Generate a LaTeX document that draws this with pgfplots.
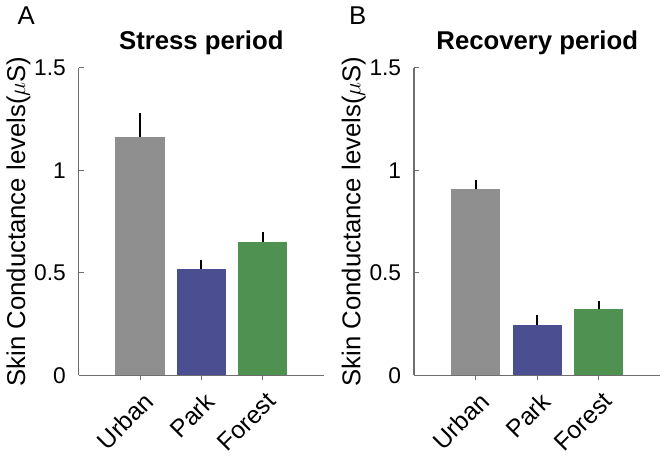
\documentclass[border=0pt]{standalone}
\usepackage{pgfplots}
\pgfplotsset{compat=1.18}
\usepackage{fontspec}
\setmainfont{Liberation Sans}

\definecolor{urban}{RGB}{143,143,143}
\definecolor{park}{RGB}{75,78,145}
\definecolor{forest}{RGB}{78,145,80}
\definecolor{axgray}{RGB}{110,110,110}

\pgfplotsset{
  panel/.style={
    scale only axis,
    height=155.5pt,
    ymin=0, ymax=1.5,
    xmin=0, xmax=4,
    ytick={0,0.5,1,1.5},
    yticklabels={0,0.5,1,1.5},
    xtick={1,2,3},
    xticklabels={Urban,Park,Forest},
    axis x line*=bottom,
    axis y line*=left,
    axis line style={axgray, line width=0.6pt, -},
    tick style={axgray, line width=0.5pt},
    tick align=inside,
    major tick length=2.5pt,
    ybar, bar width=0.8, bar shift=0pt,
    clip=false,
    yticklabel style={font=\fontsize{11.5}{13}\selectfont, xshift=-3pt},
    xticklabel style={font=\fontsize{12.5}{14}\selectfont, xshift=7pt, yshift=-6pt, rotate=45, anchor=east},
    ylabel={Skin Conductance levels($\mu$S)},
    every axis y label/.style={font=\fontsize{13}{15}\selectfont, at={(axis description cs:-0.245,0.5)}, anchor=center, rotate=90},
    title style={font=\fontsize{13}{15}\selectfont\bfseries, at={(axis description cs:0.5,1)}, anchor=base, yshift=3pt, inner sep=0pt},
    error bars/y dir=plus,
    error bars/y explicit,
    error bars/error mark=none,
    error bars/error bar style={black, line width=1.1pt},
  },
  panel/.append style={every axis plot/.append style={draw=none}},
}

\begin{document}
\begin{tikzpicture}
\begin{axis}[panel, width=124pt, title={Stress period}]
  \addplot[fill=urban] coordinates {(1,1.163) +- (0,0.115)};
  \addplot[fill=park] coordinates {(2,0.521) +- (0,0.04)};
  \addplot[fill=forest] coordinates {(3,0.651) +- (0,0.05)};
  \node[font=\fontsize{13}{15}\selectfont] at (axis description cs:-0.214,1.17) {A};
\end{axis}
\begin{axis}[panel, width=124.5pt, at={(169.5pt,0)}, title={Recovery period}]
  \addplot[fill=urban] coordinates {(1,0.907) +- (0,0.048)};
  \addplot[fill=park] coordinates {(2,0.246) +- (0,0.048)};
  \addplot[fill=forest] coordinates {(3,0.323) +- (0,0.039)};
  \node[font=\fontsize{13}{15}\selectfont] at (axis description cs:-0.229,1.17) {B};
\end{axis}
\end{tikzpicture}
\end{document}
